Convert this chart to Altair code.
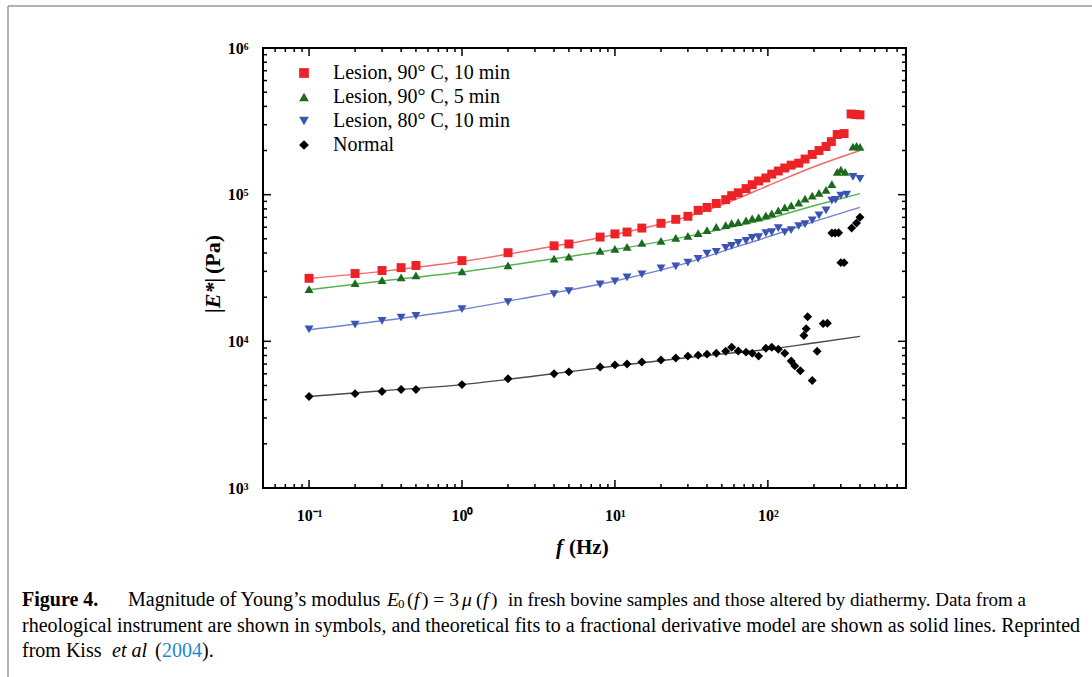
import altair as alt
import pandas as pd

# ---------------- data ----------------
SERIES = ["Lesion, 90° C, 10 min", "Lesion, 90° C, 5 min", "Lesion, 80° C, 10 min", "Normal"]

F_LOW = [0.1, 0.2, 0.3, 0.4, 0.5, 1, 2, 4, 5, 8, 10, 12, 15, 20, 25, 30, 35]
F_MID = [40, 46, 53, 58, 64, 72, 79, 87, 97, 106, 117, 129, 142, 159, 175, 195, 216, 240]

RED_F = F_LOW + F_MID + [260, 284, 315, 350, 375, 400]
RED_E = [26900, 29000, 30400, 31800, 32900, 35500, 40200, 44800, 46100, 51400, 54000, 55600, 59200,
         63800, 67900, 71200, 78200,
         81800, 87100, 92500, 98500, 103000, 110000, 117000, 124000, 130000, 138000, 145000, 152000,
         159000, 164000, 175000, 188000, 200000, 213000,
         230000, 257000, 261000, 355000, 352000, 350000]

GREEN_F = F_LOW + F_MID + [262, 284, 300, 320, 360, 380, 400]
GREEN_E = [22700, 24900, 26100, 27300, 28200, 30000, 32900, 36600, 37800, 41400, 42700, 44100, 46900,
           48400, 50700, 52300, 54700,
           57300, 60200, 62000, 63900, 64900, 66900, 69000, 70100, 72300, 74500, 78200, 81900, 84400,
           88400, 94000, 98500, 103000, 108000,
           118000, 143000, 148000, 143000, 213000, 215000, 212000]

BLUE_F = F_LOW + F_MID + [262, 277, 300, 327, 360, 400]
BLUE_E = [12050, 13000, 13800, 14500, 14900, 16600, 18500, 21000, 22000, 24500, 25600, 27300, 28600,
          31400, 32400, 34400, 36500,
          39600, 40800, 43400, 44800, 46900, 48400, 50700, 51400, 54700, 55600, 59200, 55600, 57300,
          61000, 63000, 66900, 72300, 78200,
          91200, 92000, 98500, 100000, 132000, 128000]

BLACK_F = [0.1, 0.2, 0.3, 0.4, 0.5, 1, 2, 4, 5, 8, 10, 12, 15, 20, 25, 30, 35,
           40, 46, 53, 58, 64, 72, 79, 87, 97, 106, 117, 129,
           142, 150, 163, 172, 178, 182, 195, 210, 230, 245,
           262, 275, 290, 300, 315, 353, 380, 400]
BLACK_E = [4210, 4400, 4550, 4690, 4690, 5070, 5560, 6010, 6190, 6690, 6910, 7010, 7230, 7450, 7690,
           7930, 8050,
           8180, 8300, 8570, 9120, 8600, 8440, 8300, 7930, 8980, 9120, 8840, 8300,
           7350, 6800, 6300, 10960, 12200, 14700, 5400, 8570, 13200, 13300,
           54700, 54700, 55000, 34400, 34400, 59200, 64000, 70100]

FIT_F = [0.1, 0.3, 1, 3, 10, 30, 60, 100, 200, 400]
RED_FIT = [26800, 30000, 35000, 42300, 53500, 71000, 92000, 115000, 155000, 200000]
GREEN_FIT = [22500, 25800, 29700, 35000, 42300, 52000, 60500, 68500, 84000, 101600]
BLUE_FIT = [12000, 13800, 16500, 20300, 25800, 34400, 43500, 51500, 65500, 82000]
BLACK_FIT = [4210, 4600, 5070, 5800, 6790, 7750, 8350, 8830, 9750, 10800]

X_TICKS = [0.1, 1, 10, 100]
X_TICK_LABELS = ["10⁻¹", "10⁰", "10¹", "10²"]
Y_TICKS = [1e3, 1e4, 1e5, 1e6]
Y_TICK_LABELS = ["10³", "10⁴", "10⁵", "10⁶"]
X_MINOR = [0.06, 0.07, 0.08, 0.09] + [m * d for d in (0.1, 1, 10) for m in range(2, 10)] + \
          [200, 300, 400, 500, 600, 700]
Y_MINOR = [m * d for d in (1e3, 1e4, 1e5) for m in range(2, 10)]

CAPTION_LINE2 = ("rheological instrument are shown in symbols, and theoretical fits to a fractional "
                 "derivative model are shown as solid lines. Reprinted")

# ---------------- style / layout ----------------
W, H = 643, 440
LEFT, TOP = 263, 48
MARK_COLORS = ["#ec2227", "#1b6a1f", "#3b54b3", "#000000"]
LINE_COLORS = ["#f06a6a", "#55b255", "#7283d2", "#4a4a4a"]
SHAPES = ["square", "triangle-up", "triangle-down", "diamond"]
SERIF = "Liberation Serif"

pts = pd.concat([
    pd.DataFrame({"f": fx, "E": ey, "series": s})
    for fx, ey, s in [(RED_F, RED_E, SERIES[0]), (GREEN_F, GREEN_E, SERIES[1]),
                      (BLUE_F, BLUE_E, SERIES[2]), (BLACK_F, BLACK_E, SERIES[3])]
], ignore_index=True)

xscale = alt.Scale(type="log", domain=[0.05, 800], nice=False)
yscale = alt.Scale(type="log", domain=[1e3, 1e6], nice=False)


def label_expr(vals, labs):
    return " : ".join(f"datum.value == {v} ? '{l}'" for v, l in zip(vals, labs)) + " : ''"


x_axis = alt.Axis(values=X_TICKS, labelExpr=label_expr(X_TICKS, X_TICK_LABELS), ticks=False,
                  domain=False, grid=False, title=None, labelFont=SERIF, labelFontSize=16,
                  labelFontWeight="bold", labelColor="black", labelPadding=19, labelFlush=False)
y_axis = alt.Axis(values=Y_TICKS, labelExpr=label_expr(Y_TICKS, Y_TICK_LABELS), ticks=False,
                  domain=False, grid=False, title=None, labelFont=SERIF, labelFontSize=16,
                  labelFontWeight="bold", labelColor="black", labelPadding=15, labelFlush=False)

X = alt.X("f:Q", scale=xscale, axis=x_axis)
Y = alt.Y("E:Q", scale=yscale, axis=y_axis)

legend = alt.Legend(title=None, orient="none", legendX=31, legendY=15, labelFont=SERIF,
                    labelFontSize=20, labelColor="black", labelLimit=400, symbolSize=95,
                    rowPadding=4, labelOffset=19, padding=0, symbolStrokeWidth=0)

points = alt.Chart(pts).mark_point(filled=True, size=80, opacity=1).encode(
    x=X, y=Y,
    color=alt.Color("series:N", scale=alt.Scale(domain=SERIES, range=MARK_COLORS), sort=SERIES,
                    legend=legend),
    shape=alt.Shape("series:N", scale=alt.Scale(domain=SERIES, range=SHAPES), sort=SERIES,
                    legend=legend),
)

fit_layers = []
for vals, col in zip([RED_FIT, GREEN_FIT, BLUE_FIT, BLACK_FIT], LINE_COLORS):
    fit_layers.append(
        alt.Chart(pd.DataFrame({"f": FIT_F, "E": vals})).mark_line(
            color=col, strokeWidth=1.4, interpolate="monotone").encode(x=X, y=Y)
    )

# inward ticks on all four sides
tick_layers = []
for vals, ln in [(X_TICKS, 8), (X_MINOR, 4)]:
    d = pd.DataFrame({"f": vals})
    tick_layers.append(alt.Chart(d).mark_rule(color="black", strokeWidth=1.5).encode(
        x=X, y=alt.value(H), y2=alt.value(H - ln)))
    tick_layers.append(alt.Chart(d).mark_rule(color="black", strokeWidth=1.5).encode(
        x=X, y=alt.value(0), y2=alt.value(ln)))
for vals, ln in [(Y_TICKS, 8), (Y_MINOR, 4)]:
    d = pd.DataFrame({"E": vals})
    tick_layers.append(alt.Chart(d).mark_rule(color="black", strokeWidth=1.5).encode(
        y=Y, x=alt.value(0), x2=alt.value(ln)))
    tick_layers.append(alt.Chart(d).mark_rule(color="black", strokeWidth=1.5).encode(
        y=Y, x=alt.value(W), x2=alt.value(W - ln)))

one = pd.DataFrame({"k": [0]})


def txt(text, x, y, size, weight="normal", style="normal", color="black", angle=0,
        align="left"):
    kw = dict(font=SERIF, fontSize=size, fontWeight=weight, fontStyle=style, color=color,
              align=align, baseline="middle", text=text)
    if angle:
        kw["angle"] = angle
    return alt.Chart(one).mark_text(**kw).encode(x=alt.value(x - LEFT), y=alt.value(y - TOP))


L1, L2, L3 = 600, 626, 651
C1 = 19.5
text_layers = [
    # axis titles
    txt("f", 556, 548, 21, "bold", "italic"),
    txt("(Hz)", 569, 548, 21, "bold"),
    txt("|E*|", 213, 313, 22, "bold", "italic", angle=270),
    txt("(Pa)", 213, 274, 22, "bold", angle=270),
    # caption
    txt("Figure 4.", 22, L1, 20, "bold"),
    txt("Magnitude of Young’s modulus", 128, L1, 20),
    txt("E", 387, L1, C1, style="italic"),
    txt("0", 398, L1 + 4, 13),
    txt("(", 407, L1, C1),
    txt("f", 414, L1, C1, style="italic"),
    txt(") = 3", 422, L1, C1),
    txt("μ", 462, L1, C1, style="italic"),
    txt("(", 476, L1, C1),
    txt("f", 483, L1, C1, style="italic"),
    txt(")", 491, L1, C1),
    txt("in fresh bovine samples and those altered by diathermy. Data from a", 508, L1, 19),
    txt(CAPTION_LINE2, 22, L2, 20),
    txt("from Kiss", 22, L3, 20),
    txt("et al", 112, L3, 20, style="italic"),
    txt("(", 155, L3, 20),
    txt("2004", 162, L3, 20, color="#1a8ad0"),
    txt(").", 202, L3, 20),
]

# figure frame (top and left rules)
frame = [
    alt.Chart(one).mark_rule(color="#9a9a9a", strokeWidth=1.5).encode(
        x=alt.value(8 - LEFT), x2=alt.value(1092 - LEFT), y=alt.value(6 - TOP)),
    alt.Chart(one).mark_rule(color="#9a9a9a", strokeWidth=1.5).encode(
        x=alt.value(8 - LEFT), y=alt.value(6 - TOP), y2=alt.value(677 - TOP)),
]

chart = alt.layer(*fit_layers, points, *tick_layers, *text_layers, *frame).properties(
    width=W, height=H,
    autosize=alt.AutoSizeParams(type="none"),
    padding={"left": LEFT, "top": TOP, "right": 1092 - LEFT - W, "bottom": 677 - TOP - H},
    background="white",
).configure_view(stroke="black", strokeWidth=2)

chart.save("out.html", embed_options={"renderer": "svg", "actions": False})
